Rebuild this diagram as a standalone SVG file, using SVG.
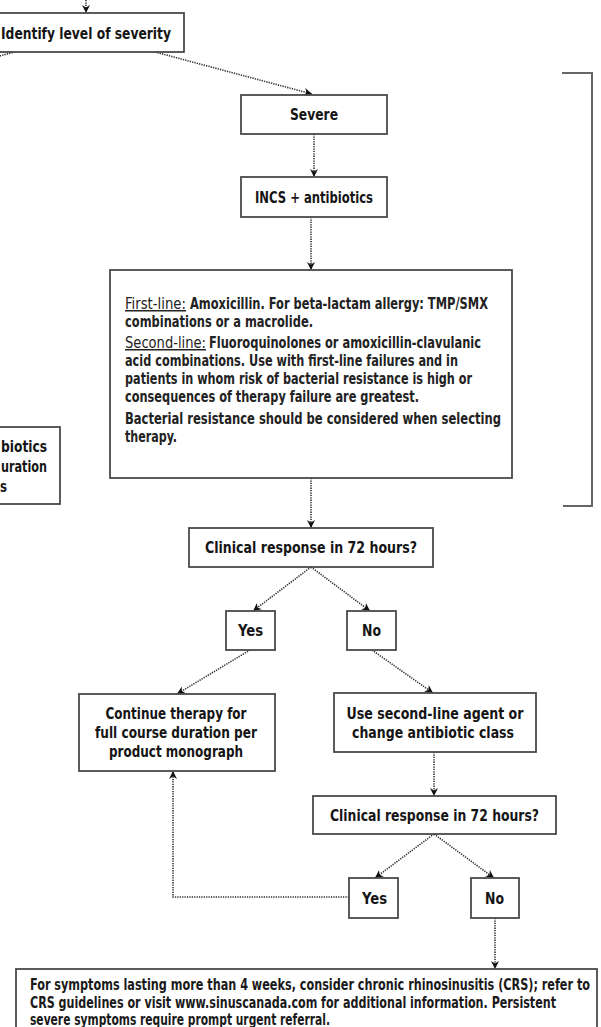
<svg xmlns="http://www.w3.org/2000/svg" width="601" height="1027" viewBox="0 0 601 1027">
<defs>
<marker id="ah" viewBox="0 0 10 10" refX="10" refY="5" markerWidth="9" markerHeight="8" orient="auto" markerUnits="userSpaceOnUse">
<path d="M0,0 L10,5 L0,10 L3,5 z" fill="#111"/>
</marker>
<style>
.box{fill:#fff;stroke:#4a4a4a;stroke-width:1.8}
.lbl{font-family:"Liberation Sans Narrow","DejaVu Sans Condensed","Arial Narrow",sans-serif;font-weight:bold;font-size:16.5px;fill:#151515;text-anchor:middle}
.body{font-family:"Liberation Sans Narrow","DejaVu Sans Condensed","Arial Narrow",sans-serif;font-weight:bold;font-size:15px;fill:#222}
.ul{font-weight:normal;text-decoration:underline}
.foot{font-family:"Liberation Sans Narrow","DejaVu Sans Condensed","Arial Narrow",sans-serif;font-weight:bold;font-size:16px;fill:#1a1a1a}
.con{fill:none;stroke:#333;stroke-width:1.6;stroke-dasharray:1.3 1.1}
.arr{marker-end:url(#ah)}
.brk{fill:none;stroke:#666;stroke-width:2}
</style>
</defs>
<rect width="601" height="1027" fill="#fff"/>

<g id="connectors">
<line class="con arr" x1="86" y1="0" x2="86" y2="13"/>
<line class="con" x1="15" y1="52" x2="-20" y2="61"/>
<line class="con arr" x1="155" y1="52" x2="312" y2="94"/>
<line class="con arr" x1="314" y1="134" x2="314" y2="177"/>
<line class="con arr" x1="311" y1="217" x2="311" y2="270"/>
<line class="con arr" x1="311" y1="478" x2="311" y2="528"/>
<line class="con arr" x1="311" y1="567" x2="253" y2="611"/>
<line class="con arr" x1="311" y1="567" x2="370" y2="611"/>
<line class="con arr" x1="250" y1="650" x2="177" y2="694"/>
<line class="con arr" x1="372" y1="650" x2="433" y2="693"/>
<line class="con arr" x1="434" y1="752" x2="434" y2="796"/>
<line class="con arr" x1="434" y1="834" x2="375" y2="878"/>
<line class="con arr" x1="434" y1="834" x2="494" y2="878"/>
<polyline class="con arr" points="349,897 173,897 173,771"/>
<line class="con arr" x1="495" y1="918" x2="495" y2="969"/>
</g>

<g id="bracket">
<polyline class="brk" points="562,73 592,73 592,506 563,506"/>
</g>

<g id="identify">
<rect class="box" x="-12" y="13" width="196" height="39"/>
<text class="lbl" x="86" y="39" textLength="170" lengthAdjust="spacingAndGlyphs">Identify level of severity</text>
</g>

<g id="severe">
<rect class="box" x="241" y="95" width="146" height="39"/>
<text class="lbl" x="314" y="120" textLength="48" lengthAdjust="spacingAndGlyphs">Severe</text>
</g>

<g id="incs">
<rect class="box" x="241" y="177" width="146" height="40"/>
<text class="lbl" x="314" y="203" textLength="118" lengthAdjust="spacingAndGlyphs">INCS + antibiotics</text>
</g>

<g id="therapy">
<rect class="box" x="110" y="270" width="402" height="208"/>
<text class="body ul" x="125" y="309" textLength="61" lengthAdjust="spacingAndGlyphs">First-line:</text>
<text class="body" x="190" y="309" textLength="298" lengthAdjust="spacingAndGlyphs">Amoxicillin. For beta-lactam allergy: TMP/SMX</text>
<text class="body" x="125" y="327" textLength="188" lengthAdjust="spacingAndGlyphs">combinations or a macrolide.</text>
<text class="body ul" x="125" y="348" textLength="81" lengthAdjust="spacingAndGlyphs">Second-line:</text>
<text class="body" x="209" y="348" textLength="272" lengthAdjust="spacingAndGlyphs">Fluoroquinolones or amoxicillin-clavulanic</text>
<text class="body" x="125" y="366" textLength="333" lengthAdjust="spacingAndGlyphs">acid combinations. Use with first-line failures and in</text>
<text class="body" x="125" y="384" textLength="347" lengthAdjust="spacingAndGlyphs">patients in whom risk of bacterial resistance is high or</text>
<text class="body" x="125" y="402" textLength="294" lengthAdjust="spacingAndGlyphs">consequences of therapy failure are greatest.</text>
<text class="body" x="125" y="424" textLength="376" lengthAdjust="spacingAndGlyphs">Bacterial resistance should be considered when selecting</text>
<text class="body" x="125" y="442" textLength="52" lengthAdjust="spacingAndGlyphs">therapy.</text>
</g>

<g id="leftbox">
<rect class="box" x="-20" y="427" width="80" height="77"/>
<text class="lbl" x="1" y="452" style="text-anchor:start" textLength="46" lengthAdjust="spacingAndGlyphs">biotics</text>
<text class="lbl" x="1" y="472" style="text-anchor:start" textLength="46" lengthAdjust="spacingAndGlyphs">uration</text>
<text class="lbl" x="0" y="492" style="text-anchor:start" textLength="7" lengthAdjust="spacingAndGlyphs">s</text>
</g>

<g id="clinical1">
<rect class="box" x="189" y="528" width="244" height="39"/>
<text class="lbl" x="311" y="553" textLength="212" lengthAdjust="spacingAndGlyphs">Clinical response in 72 hours?</text>
</g>

<g id="yes1">
<rect class="box" x="226" y="611" width="49" height="39"/>
<text class="lbl" x="250.5" y="636" textLength="25" lengthAdjust="spacingAndGlyphs">Yes</text>
</g>

<g id="no1">
<rect class="box" x="347" y="611" width="49" height="39"/>
<text class="lbl" x="371.5" y="636" textLength="19" lengthAdjust="spacingAndGlyphs">No</text>
</g>

<g id="continue">
<rect class="box" x="79" y="694" width="196" height="77"/>
<text class="lbl" x="176" y="719" textLength="141" lengthAdjust="spacingAndGlyphs">Continue therapy for</text>
<text class="lbl" x="176" y="738" textLength="162" lengthAdjust="spacingAndGlyphs">full course duration per</text>
<text class="lbl" x="176" y="757" textLength="134" lengthAdjust="spacingAndGlyphs">product monograph</text>
</g>

<g id="secondline">
<rect class="box" x="334" y="693" width="202" height="59"/>
<text class="lbl" x="435" y="718.5" textLength="177" lengthAdjust="spacingAndGlyphs">Use second-line agent or</text>
<text class="lbl" x="433" y="737.5" textLength="162" lengthAdjust="spacingAndGlyphs">change antibiotic class</text>
</g>

<g id="clinical2">
<rect class="box" x="313" y="796" width="243" height="38"/>
<text class="lbl" x="434.5" y="821" textLength="209" lengthAdjust="spacingAndGlyphs">Clinical response in 72 hours?</text>
</g>

<g id="yes2">
<rect class="box" x="349" y="878" width="49" height="40"/>
<text class="lbl" x="374.5" y="904" textLength="25" lengthAdjust="spacingAndGlyphs">Yes</text>
</g>

<g id="no2">
<rect class="box" x="471" y="878" width="48" height="40"/>
<text class="lbl" x="494.5" y="904" textLength="19" lengthAdjust="spacingAndGlyphs">No</text>
</g>

<g id="crs">
<rect class="box" x="16" y="969" width="581" height="80"/>
<text class="foot" transform="translate(30,990) scale(0.75,1)" x="0" y="0" textLength="746.7" lengthAdjust="spacingAndGlyphs">For symptoms lasting more than 4 weeks, consider chronic rhinosinusitis (CRS); refer to</text>
<text class="foot" transform="translate(30,1008) scale(0.75,1)" x="0" y="0" textLength="701.3" lengthAdjust="spacingAndGlyphs">CRS guidelines or visit www.sinuscanada.com for additional information. Persistent</text>
<text class="foot" transform="translate(30,1025) scale(0.75,1)" x="0" y="0" textLength="400" lengthAdjust="spacingAndGlyphs">severe symptoms require prompt urgent referral.</text>
</g>
</svg>
